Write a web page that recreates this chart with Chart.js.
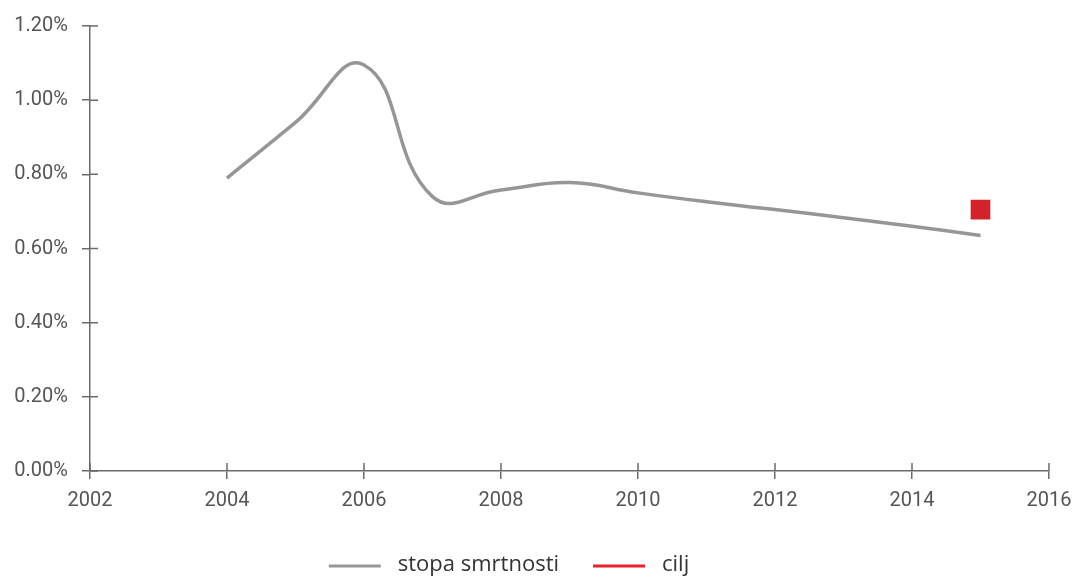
<!DOCTYPE html>
<html>
<head>
<meta charset="utf-8">
<script src="https://cdn.jsdelivr.net/npm/chart.js@4/dist/chart.umd.min.js"></script>
<style>
  body { margin: 0; background: #fff; }
  #wrap { width: 1074px; height: 579px; }
</style>
</head>
<body>
<div id="wrap"><canvas id="chart"></canvas></div>
<script>
// data (percent)
var years = [2004, 2005, 2006, 2007, 2008, 2009, 2010, 2011, 2012, 2013, 2014, 2015];
var mortality = [0.79, 0.94, 1.095, 0.74, 0.758, 0.778, 0.75, 0.726, 0.705, 0.683, 0.66, 0.635];
var targetYears = [2015];
var targetValues = [0.705];
var seriesNames = ['stopa smrtnosti', 'cilj'];
var legendColors = ['#969696', '#e8232b'];

var axisColor = '#6b6b6b';
var tickFont = { family: 'Roboto', size: 20 };

function toPoints(xs, ys) {
  var out = [];
  for (var i = 0; i < xs.length; i++) out.push({ x: xs[i], y: ys[i] });
  return out;
}

// draws the half of each tick mark that sits inside the plot
var innerTicks = {
  id: 'innerTicks',
  afterDraw: function (chart) {
    var ctx = chart.ctx, xs = chart.scales.x, ys = chart.scales.y;
    ctx.save();
    ctx.strokeStyle = axisColor;
    ctx.lineWidth = 1.5;
    ctx.beginPath();
    xs.ticks.forEach(function (t) {
      var px = xs.getPixelForValue(t.value);
      ctx.moveTo(px, ys.bottom);
      ctx.lineTo(px, ys.bottom - 8);
    });
    ys.ticks.forEach(function (t) {
      var py = ys.getPixelForValue(t.value);
      ctx.moveTo(xs.left, py);
      ctx.lineTo(xs.left + 8, py);
    });
    ctx.stroke();
    ctx.restore();
  }
};

// line-sample legend under the chart
var lineLegend = {
  id: 'lineLegend',
  afterDraw: function (chart) {
    var ctx = chart.ctx;
    var y = 566, sample = 52, gap = 17, between = 34;
    ctx.save();
    ctx.font = '22px "Open Sans"';
    ctx.textBaseline = 'middle';
    var total = 0;
    seriesNames.forEach(function (n, i) {
      total += sample + gap + ctx.measureText(n).width + (i ? between : 0);
    });
    var x = chart.width / 2 - 28 - total / 2;
    seriesNames.forEach(function (n, i) {
      if (i) x += between;
      ctx.strokeStyle = legendColors[i];
      ctx.lineWidth = 3;
      ctx.beginPath();
      ctx.moveTo(x, y);
      ctx.lineTo(x + sample, y);
      ctx.stroke();
      x += sample + gap;
      ctx.fillStyle = '#333';
      ctx.fillText(n, x, y - 1);
      x += ctx.measureText(n).width;
    });
    ctx.restore();
  }
};

var ctx = document.getElementById('chart').getContext('2d');
var chart = new Chart(ctx, {
  type: 'line',
  data: {
    datasets: [{
      label: seriesNames[0],
      data: toPoints(years, mortality),
      borderColor: '#969696',
      borderWidth: 3.5,
      tension: 0.45,
      pointRadius: 0
    }, {
      label: seriesNames[1],
      data: toPoints(targetYears, targetValues),
      borderColor: '#d2232a',
      pointBackgroundColor: '#d2232a',
      pointBorderColor: '#d2232a',
      pointStyle: 'rect',
      pointRadius: 12.5,
      pointBorderWidth: 2,
      showLine: false
    }]
  },
  options: {
    responsive: true,
    maintainAspectRatio: false,
    animation: false,
    layout: { padding: { top: 11, right: 0, left: 0, bottom: 50 } },
    plugins: {
      tooltip: { enabled: false },
      legend: { display: false }
    },
    scales: {
      x: {
        type: 'linear',
        min: 2002,
        max: 2016,
        border: { color: axisColor, width: 1.5 },
        grid: { drawOnChartArea: false, tickLength: 8, color: axisColor, lineWidth: 1.5 },
        ticks: {
          stepSize: 2,
          color: '#555',
          font: tickFont,
          padding: 10,
          maxRotation: 0,
          callback: function (v) { return String(v); }
        },
        afterFit: function (scale) {
          scale.height = 58;
          scale.paddingRight = 25;
        }
      },
      y: {
        min: 0,
        max: 1.2,
        border: { color: axisColor, width: 1.5 },
        grid: { drawOnChartArea: false, tickLength: 8, color: axisColor, lineWidth: 1.5 },
        ticks: {
          stepSize: 0.2,
          color: '#555',
          font: tickFont,
          padding: 14,
          callback: function (v) { return v.toFixed(2) + '%'; }
        },
        afterFit: function (scale) { scale.width = 90; }
      }
    }
  },
  plugins: [innerTicks, lineLegend]
});
</script>
</body>
</html>
